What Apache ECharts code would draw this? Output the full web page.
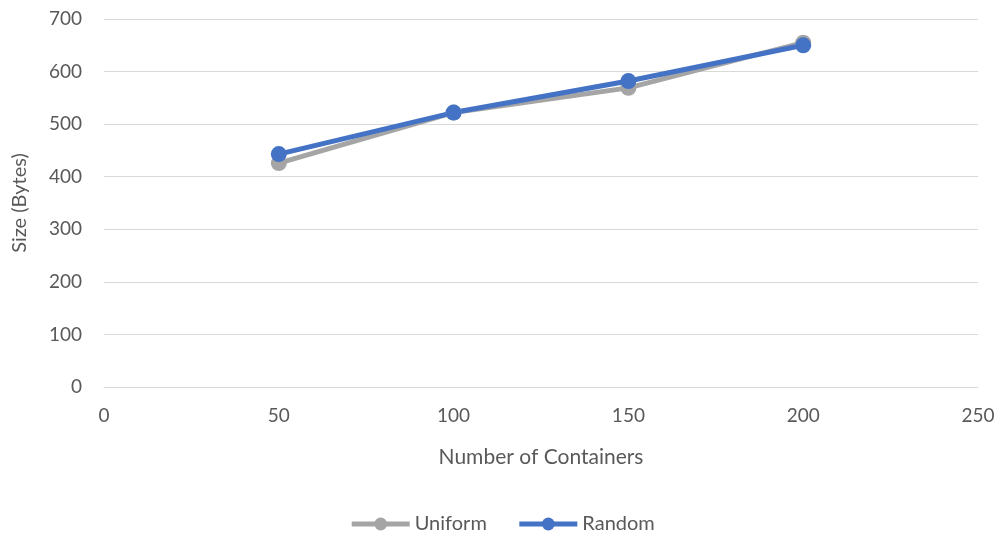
<!DOCTYPE html>
<html>
<head>
<meta charset="utf-8">
<script src="https://cdn.jsdelivr.net/npm/echarts@6/dist/echarts.min.js"></script>
<style>
  html, body { margin: 0; padding: 0; background: #fff; }
  #chart { width: 1004px; height: 542px; }
</style>
</head>
<body>
<div id="chart"></div>
<script>
const containers = [50, 100, 150, 200]
const uniformSizes = [426, 522, 569, 655]
const randomSizes = [443, 522, 582, 650]
const xTicks = { min: 0, max: 250, interval: 50 }
const yTicks = { min: 0, max: 700, interval: 100 }

const textColor = '#595959'
const fontFamily = 'Lato, "Open Sans", sans-serif'

const chart = echarts.init(document.getElementById('chart'))

const toPairs = (xs, ys) => xs.map((x, i) => [x, ys[i]])

const option = {
  animation: false,
  textStyle: { fontFamily: fontFamily, color: textColor },
  grid: { left: 104, right: 26, top: 19, bottom: 155 },
  legend: {
    bottom: 3,
    left: 'center',
    itemWidth: 58,
    itemHeight: 16,
    itemGap: 30,
    lineStyle: { width: 5 },
    textStyle: { fontSize: 20, color: textColor, fontFamily: fontFamily },
    data: ['Uniform', 'Random']
  },
  xAxis: {
    type: 'value',
    min: xTicks.min,
    max: xTicks.max,
    interval: xTicks.interval,
    name: 'Number of Containers',
    nameLocation: 'middle',
    nameGap: 60,
    nameTextStyle: { fontSize: 21, color: textColor },
    axisLine: { show: true, lineStyle: { color: '#d9d9d9' } },
    axisTick: { show: false },
    splitLine: { show: false },
    axisLabel: { fontSize: 19, color: textColor, margin: 19 }
  },
  yAxis: {
    type: 'value',
    min: yTicks.min,
    max: yTicks.max,
    interval: yTicks.interval,
    name: 'Size (Bytes)',
    nameLocation: 'middle',
    nameGap: 74,
    nameTextStyle: { fontSize: 20, color: textColor },
    axisLine: { show: false },
    axisTick: { show: false },
    splitLine: { lineStyle: { color: '#d9d9d9', width: 1 } },
    axisLabel: { fontSize: 19, color: textColor, margin: 22 }
  },
  series: [
    {
      name: 'Uniform',
      type: 'line',
      data: toPairs(containers, uniformSizes),
      symbol: 'circle',
      symbolSize: 16,
      lineStyle: { width: 5, color: '#a5a5a5' },
      itemStyle: { color: '#a5a5a5' }
    },
    {
      name: 'Random',
      type: 'line',
      data: toPairs(containers, randomSizes),
      symbol: 'circle',
      symbolSize: 16,
      lineStyle: { width: 5, color: '#4472c4' },
      itemStyle: { color: '#4472c4' }
    }
  ]
}

chart.setOption(option)
</script>
</body>
</html>
